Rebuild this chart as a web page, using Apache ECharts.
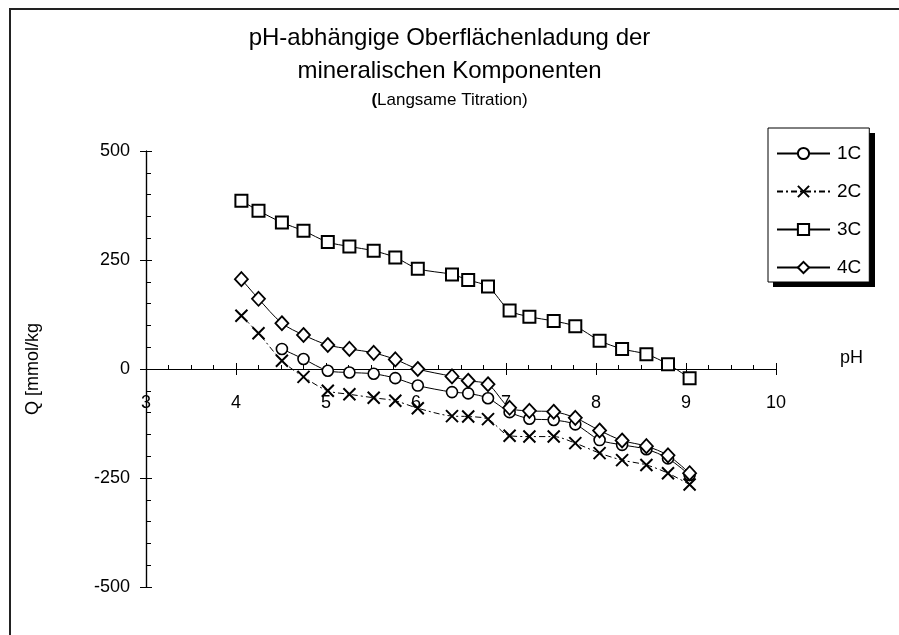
<!DOCTYPE html>
<html>
<head>
<meta charset="utf-8">
<script src="https://cdn.jsdelivr.net/npm/echarts@6/dist/echarts.min.js"></script>
<style>
html,body{margin:0;padding:0;background:#fff;}
#chart{width:899px;height:635px;}
</style>
</head>
<body>
<div id="chart"></div>
<script>
// ---- data ----
const phValues = [4.06, 4.25, 4.51, 4.75, 5.02, 5.26, 5.53, 5.77, 6.02, 6.40, 6.58, 6.80, 7.04, 7.26, 7.53, 7.77, 8.04, 8.29, 8.56, 8.80, 9.04];
const q1C = [null, null, 46, 23, -4, -8, -11, -21, -38, -53, -56, -67, -99, -114, -117, -127, -163, -174, -184, -205, -243];
const q2C = [122, 82, 19, -18, -50, -58, -66, -73, -90, -108, -109, -115, -153, -155, -155, -170, -193, -209, -220, -239, -265];
const q3C = [386, 363, 336, 317, 291, 281, 271, 256, 230, 217, 204, 189, 134, 120, 110, 98, 65, 46, 34, 11, -21];
const q4C = [206, 161, 105, 78, 55, 46, 37, 22, 0, -17, -27, -35, -89, -96, -98, -112, -141, -164, -177, -198, -239];
const seriesNames = ['1C', '2C', '3C', '4C'];
const xTicks = [3, 10, 1];      // min, max, step
const yTicks = [-500, 500, 250];

const titleLine1 = 'pH-abhängige Oberflächenladung der';
const titleLine2 = 'mineralischen Komponenten';
const subTitle = 'Langsame Titration)';
const xName = 'pH';
const yName = 'Q [mmol/kg';

function pairs(ys) {
  const out = [];
  ys.forEach((y, i) => { if (y !== null) out.push([phValues[i], y]); });
  return out;
}

const FONT = '"Liberation Sans", Arial, sans-serif';
const chart = echarts.init(document.getElementById('chart'), null, {renderer: 'canvas'});

const xSymbol = 'path://M0,0L10,10M10,0L0,10';
const AX = {color: '#000', width: 1.2};

function xAxisOn(grid, extra) {
  return Object.assign({
    type: 'value', gridIndex: grid, min: xTicks[0], max: xTicks[1], interval: xTicks[2],
    position: 'bottom',
    axisLine: {show: true, onZero: false, lineStyle: AX},
    splitLine: {show: false}
  }, extra);
}
function yAxisOn(grid, extra) {
  return Object.assign({
    type: 'value', gridIndex: grid, min: yTicks[0], max: yTicks[1], interval: yTicks[2],
    position: 'left',
    axisLine: {show: true, onZero: false, lineStyle: AX},
    splitLine: {show: false}
  }, extra);
}

const lineCommon = {
  type: 'line', smooth: 0.3, symbolSize: 11, showSymbol: true,
  xAxisIndex: 0, yAxisIndex: 0, z: 3
};

chart.setOption({
  animation: false,
  backgroundColor: '#fff',
  graphic: [
    {type: 'rect', shape: {x: 10, y: 9, width: 1200, height: 1000},
     style: {fill: 'none', stroke: '#222', lineWidth: 2}, silent: true, z: 0},
    {type: 'rect', shape: {x: 773, y: 133, width: 102, height: 154},
     style: {fill: '#000'}, silent: true, z: 1}
  ],
  title: {
    left: 'center', top: 17,
    text: titleLine1 + '\n' + titleLine2,
    textStyle: {fontFamily: FONT, fontSize: 24, fontWeight: 'normal', color: '#000', lineHeight: 33},
    subtext: '{b|(}' + subTitle,
    subtextStyle: {fontFamily: FONT, fontSize: 17, color: '#000', lineHeight: 20,
      rich: {b: {fontFamily: FONT, fontSize: 17, fontWeight: 'bold', color: '#000'}}},
    itemGap: 2
  },
  legend: {
    orient: 'vertical', left: 768, top: 128, z: 5,
    padding: [16, 8, 5, 8],
    itemWidth: 53, itemHeight: 14, itemGap: 19,
    backgroundColor: '#fff', borderColor: '#000', borderWidth: 1,
    textStyle: {fontFamily: FONT, fontSize: 19, color: '#000', padding: [0, 0, 0, 2]},
    data: seriesNames
  },
  grid: [
    {left: 146, top: 151, width: 630, height: 436, containLabel: false},
    {left: 146, top: 151, width: 630, height: 218, containLabel: false}
  ],
  xAxis: [
    // hidden data axis for the series
    xAxisOn(0, {show: false}),
    // visible axis drawn at Q = 0 (bottom of grid 1): labels + downward ticks
    xAxisOn(1, {
      axisTick: {show: true, length: 6, inside: false, lineStyle: {color: '#000'}},
      axisLabel: {show: true, margin: 25, fontFamily: FONT, fontSize: 18, color: '#000', showMinLabel: true, showMaxLabel: true},
      name: xName, nameLocation: 'end', nameGap: 64,
      nameTextStyle: {fontFamily: FONT, fontSize: 18, color: '#000', verticalAlign: 'bottom', padding: [0, 0, 2, 0]}
    }),
    // upward ticks + minor ticks
    xAxisOn(1, {
      axisTick: {show: true, length: 6, inside: true, lineStyle: {color: '#000'}},
      minorTick: {show: true, splitNumber: 4, length: 4, lineStyle: {color: '#000'}},
      axisLabel: {show: false}
    })
  ],
  yAxis: [
    yAxisOn(0, {
      axisTick: {show: true, length: 6, inside: false, lineStyle: {color: '#000'}},
      axisLabel: {show: true, margin: 16, fontFamily: FONT, fontSize: 18, color: '#000'},
      name: yName, nameLocation: 'middle', nameGap: 104, nameRotate: 90,
      nameTextStyle: {fontFamily: FONT, fontSize: 18, color: '#000'}
    }),
    yAxisOn(0, {
      axisTick: {show: true, length: 6, inside: true, lineStyle: {color: '#000'}},
      minorTick: {show: true, splitNumber: 5, length: 5, lineStyle: {color: '#000'}},
      axisLabel: {show: false}
    }),
    yAxisOn(1, {show: false, min: 0, max: yTicks[1]})
  ],
  series: [
    Object.assign({}, lineCommon, {
      name: seriesNames[0], data: pairs(q1C), symbol: 'circle',
      itemStyle: {color: '#fff', borderColor: '#000', borderWidth: 1.6},
      lineStyle: {color: '#000', width: 1}
    }),
    Object.assign({}, lineCommon, {
      name: seriesNames[1], data: pairs(q2C), symbol: xSymbol, symbolSize: 12,
      itemStyle: {color: '#000', borderColor: '#000', borderWidth: 2},
      lineStyle: {color: '#000', width: 1, type: [6, 3, 2, 3]}
    }),
    Object.assign({}, lineCommon, {
      name: seriesNames[2], data: pairs(q3C), symbol: 'rect', symbolSize: 12,
      itemStyle: {color: '#fff', borderColor: '#000', borderWidth: 2},
      lineStyle: {color: '#000', width: 1}
    }),
    Object.assign({}, lineCommon, {
      name: seriesNames[3], data: pairs(q4C), symbol: 'diamond', symbolSize: [13, 14],
      itemStyle: {color: '#fff', borderColor: '#000', borderWidth: 1.8},
      lineStyle: {color: '#000', width: 1}
    })
  ]
});
</script>
</body>
</html>
